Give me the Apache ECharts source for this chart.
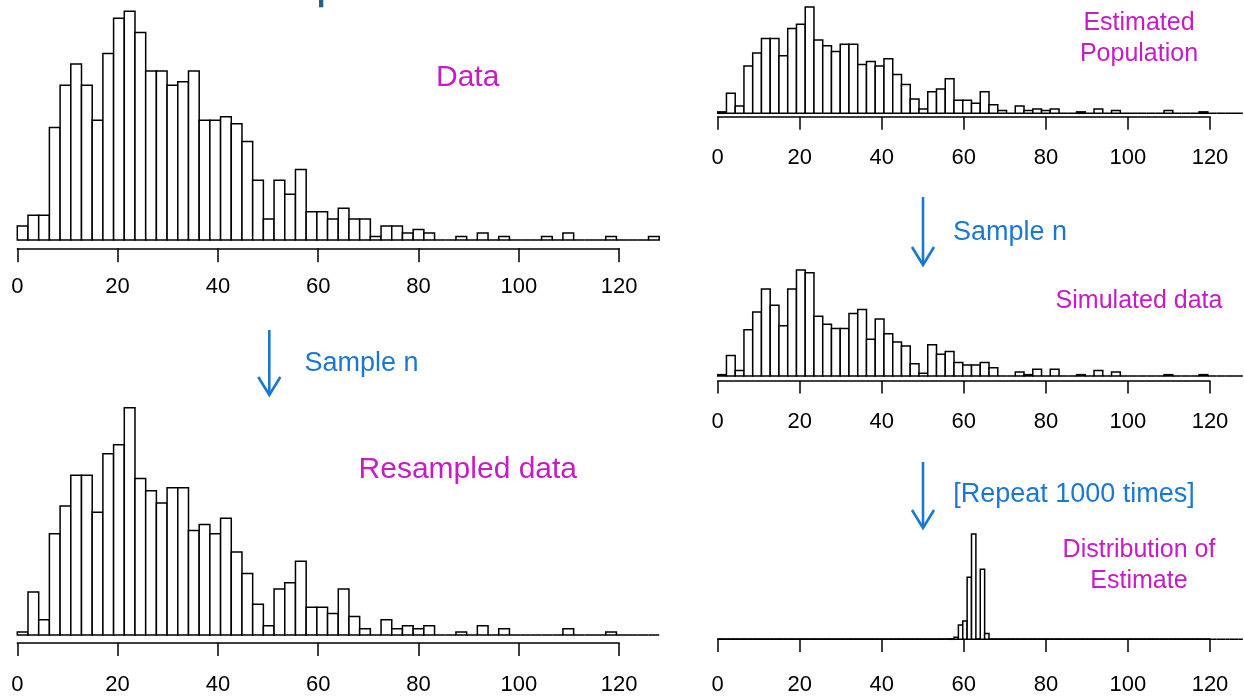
<!DOCTYPE html>
<html><head><meta charset="utf-8">
<script src="https://cdn.jsdelivr.net/npm/echarts@6/dist/echarts.min.js"></script>
<style>html,body{margin:0;padding:0;background:#fff}#c{width:1244px;height:696px}</style>
</head><body><div id="c"></div>
<script>
// ---------- data (counts per histogram bin) ----------
const X_RANGE_MAX = 128;          // histogram breaks span 0..128
const BIN_COUNT_MAIN = 60;        // 60 bins for the data-like panels
const tickLabels = [0, 20, 40, 60, 80, 100, 120];

const dataCounts = [4,7,7,32,44,50,44,34,53,63, 65,59,48,48,44,45,48,34,34,35,
                    33,28,17,6,17,13,20,8,8,6, 9,6,6,1,4,4,2,3,2,0,
                    0,1,0,2,0,1,0,0,0,1, 0,2,0,0,0,1,0,0,0,1];
const resampledCounts = [1,14,5,33,42,52,52,40,59,62, 74,51,47,43,48,48,34,36,33,38,
                    27,20,10,3,15,17,24,9,9,7, 15,6,2,0,5,2,3,2,3,0,
                    0,1,0,3,0,2,0,0,0,0, 0,2,0,0,0,1,0,0,0,0];
const estPopCounts = [1,14,5,33,42,52,52,40,59,62, 74,51,47,43,48,48,34,36,33,38,
                    27,20,10,3,15,17,24,9,9,7, 15,6,2,0,5,2,3,2,3,0,
                    0,1,0,3,0,2,0,0,0,0, 0,2,0,0,0,1,0,0,0,0];
const simulatedCounts = [1,15,4,34,47,64,52,37,64,78, 76,44,38,35,35,46,49,27,42,31,
                    25,22,9,2,23,16,18,10,8,8, 10,6,0,0,3,1,5,0,5,0,
                    0,1,0,4,0,3,0,0,0,0, 0,1,0,0,0,1,0,0,0,0];
// distribution of the estimate: 120 bins over 0..128, non-empty ones start at bin 53
const BIN_COUNT_EST = 120;
const estimateFirstBin = 53;
const estimateCounts = [1,7,51,66,223,379,0,252,21];

// ---------- build bins ----------
function binsFrom(counts, nBins, firstBin) {
  const w = X_RANGE_MAX / nBins;
  const out = [];
  for (let i = 0; i < nBins; i++) {
    const j = i - (firstBin || 0);
    const c = (j >= 0 && j < counts.length) ? counts[j] : 0;
    out.push([i * w, (i + 1) * w, c]);
  }
  return out;
}

// ---------- layout ----------
const panels = [
  { bins: binsFrom(dataCounts, BIN_COUNT_MAIN), left: 17.3, ppu: 5.015, top: 0,     height: 240,   ymax: 68.2, axisY: 248.3, tick: 14, margin: 28 },
  { bins: binsFrom(resampledCounts, BIN_COUNT_MAIN), left: 17.3, ppu: 5.015, top: 389.4, height: 245.6, ymax: 80, axisY: 644, tick: 13, margin: 31 },
  { bins: binsFrom(estPopCounts, BIN_COUNT_MAIN), left: 717.7, ppu: 4.1025, top: 0.1, height: 113.2, ymax: 78.8, axisY: 116.7, tick: 13, margin: 30 },
  { bins: binsFrom(simulatedCounts, BIN_COUNT_MAIN), left: 717.7, ppu: 4.1025, top: 261.8, height: 114.2, ymax: 84, axisY: 381, tick: 12.5, margin: 30 },
  { bins: binsFrom(estimateCounts, BIN_COUNT_EST, estimateFirstBin), left: 717.7, ppu: 4.1025, top: 528.1, height: 111.2, ymax: 400, axisY: 642, tick: 13, margin: 35 }
];

const FONT = '"Liberation Sans", Arial, sans-serif';
const grids = [], xAxes = [], yAxes = [], series = [];
panels.forEach((p, k) => {
  // bar grid
  grids.push({ left: p.left, top: p.top, width: X_RANGE_MAX * p.ppu, height: p.height });
  xAxes.push({ gridIndex: 2 * k, type: 'value', min: 0, max: X_RANGE_MAX, show: false });
  yAxes.push({ gridIndex: 2 * k, type: 'value', min: 0, max: p.ymax, show: false });
  // axis grid (axis drawn only from 0 to 120)
  grids.push({ left: p.left, top: p.axisY - 10, width: 120 * p.ppu, height: 10 });
  xAxes.push({
    gridIndex: 2 * k + 1, type: 'value', min: tickLabels[0], max: tickLabels[tickLabels.length - 1], interval: 20,
    axisLine: { show: true, onZero: false, lineStyle: { color: '#000', width: 1.5 } },
    axisTick: { show: true, length: p.tick, lineStyle: { color: '#000', width: 1.5 } },
    axisLabel: { show: true, color: '#000', fontSize: 22, fontFamily: FONT, margin: p.margin, showMinLabel: true, showMaxLabel: true,
      formatter: v => String(v) },
    splitLine: { show: false }
  });
  yAxes.push({ gridIndex: 2 * k + 1, type: 'value', show: false });
  series.push({
    type: 'custom', xAxisIndex: 2 * k, yAxisIndex: 2 * k, silent: true, clip: false,
    encode: { x: [0, 1], y: 2 },
    data: p.bins,
    renderItem: function (params, api) {
      const a = api.coord([api.value(0), 0]);
      const b = api.coord([api.value(1), api.value(2)]);
      return { type: 'rect',
        shape: { x: a[0], y: b[1], width: b[0] - a[0], height: a[1] - b[1] },
        style: { fill: '#fff', stroke: '#000', lineWidth: 1.5 } };
    }
  });
});

const MAGENTA = '#c61bc6', BLUE = '#1a78d4';
function txt(s, x, y, size, color) {
  return { type: 'text', x: x, y: y, style: { text: s, fill: color, font: size + 'px ' + FONT, textAlign: 'center', textVerticalAlign: 'middle' } };
}
function arrow(x, y1, y2) {
  return [
    { type: 'line', shape: { x1: x, y1: y1, x2: x, y2: y2 - 1 }, style: { stroke: BLUE, lineWidth: 2.6 } },
    { type: 'polyline', shape: { points: [[x - 11, y2 - 18], [x, y2], [x + 11, y2 - 18]] }, style: { stroke: BLUE, lineWidth: 2.6, fill: null } }
  ];
}

const graphic = [
  { type: 'rect', shape: { x: 319, y: 0, width: 4.3, height: 7.3 }, style: { fill: '#215f8c' } },
  txt('Data', 467.7, 78, 30, MAGENTA),
  txt('Resampled data', 467.8, 470, 30, MAGENTA),
  txt('Estimated', 1139, 23, 25, MAGENTA),
  txt('Population', 1139, 54, 25, MAGENTA),
  txt('Simulated data', 1139, 301, 25, MAGENTA),
  txt('Distribution of', 1139, 550, 25, MAGENTA),
  txt('Estimate', 1139, 581, 25, MAGENTA),
  txt('Sample n', 361.5, 363.5, 27, BLUE),
  txt('Sample n', 1010, 233, 27, BLUE),
  txt('[Repeat 1000 times]', 1074, 495, 27, BLUE),
  ...arrow(269.3, 330, 395),
  ...arrow(923, 197, 265),
  ...arrow(923, 462, 528)
];

const chart = echarts.init(document.getElementById('c'), null, { renderer: 'canvas' });
chart.setOption({ animation: false, backgroundColor: '#fff', grid: grids, xAxis: xAxes, yAxis: yAxes, series: series, graphic: graphic });
</script></body></html>
